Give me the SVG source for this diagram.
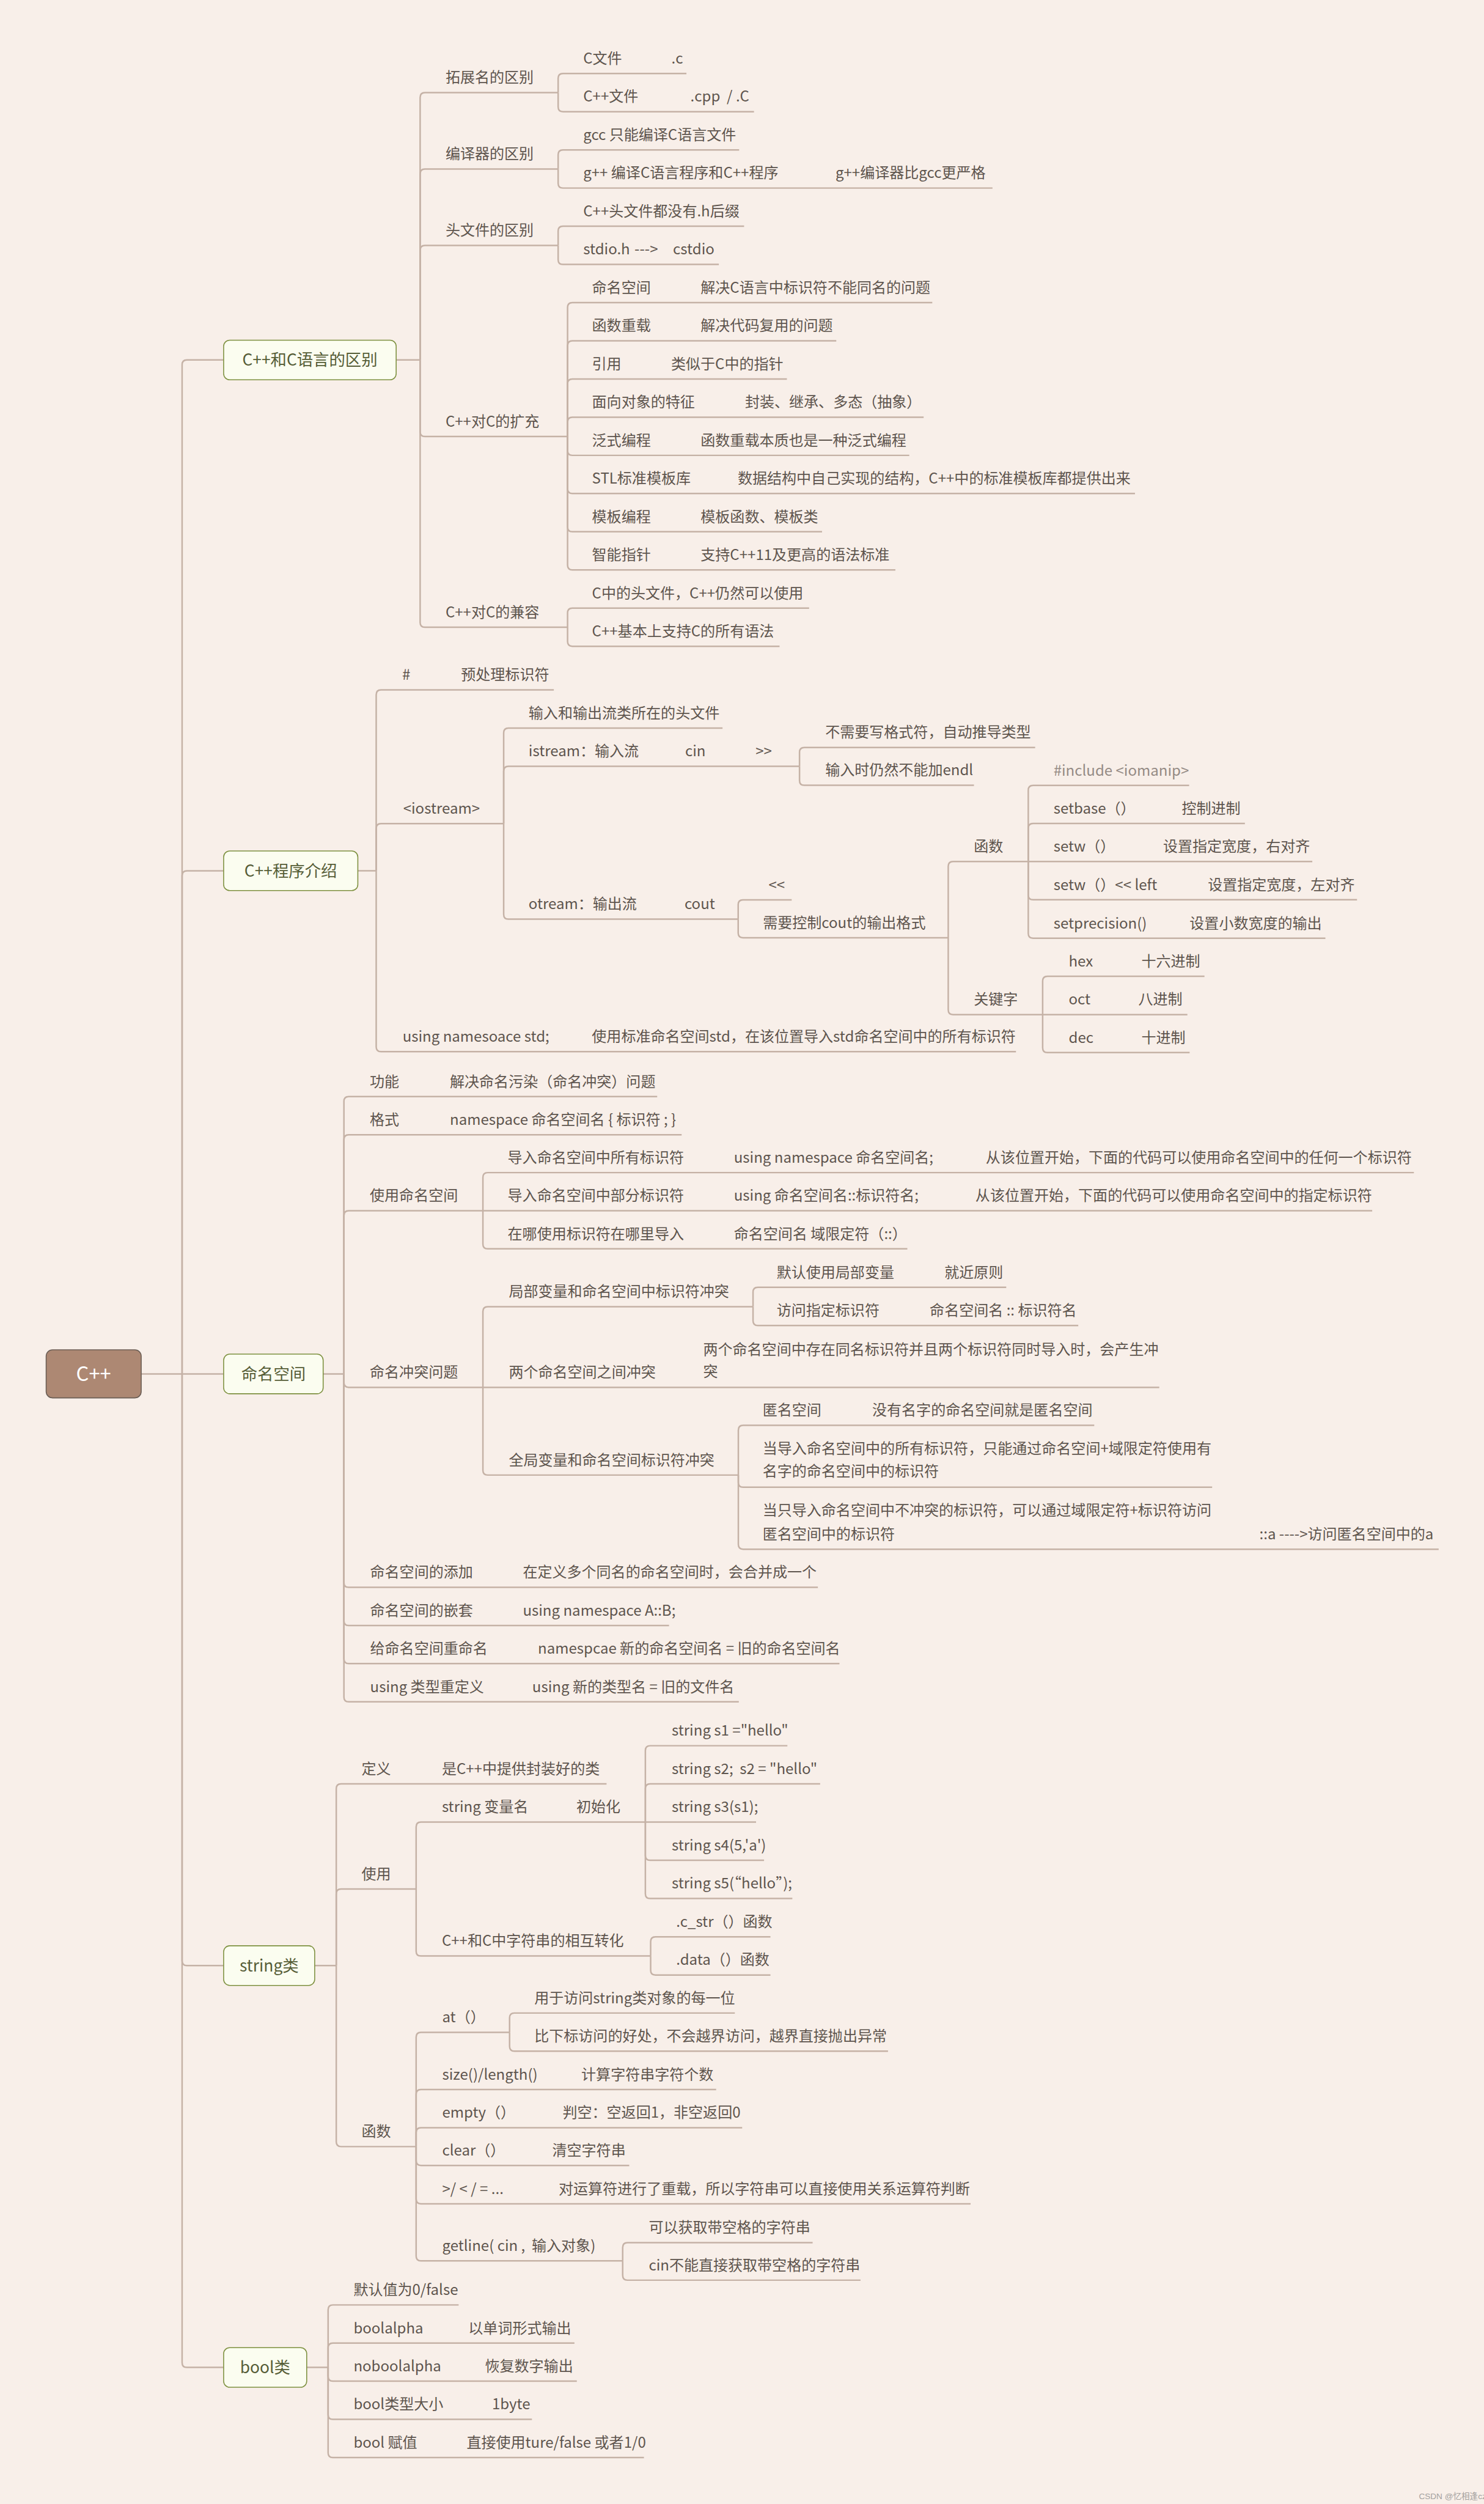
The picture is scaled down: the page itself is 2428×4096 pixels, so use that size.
<svg xmlns="http://www.w3.org/2000/svg" width="2428" height="4096" viewBox="0 0 2428 4096">
<style>
.t{font-family:"Noto Sans CJK SC","Noto Sans",sans-serif;font-size:9.2px;fill:#5e554e}
.lt{fill:#958b85}
.m{font-family:"Noto Sans CJK SC","Noto Sans",sans-serif;font-size:10.1px;fill:#565d37;text-anchor:middle}
.box{fill:#fbfdf0;stroke:#7e9140;stroke-width:0.6}
.root{fill:#ad8873;stroke:#6b5e55;stroke-width:0.6}
.rt{font-family:"Noto Sans CJK SC","Noto Sans",sans-serif;font-size:12.5px;fill:#ffffff;text-anchor:middle}
.ln{fill:none;stroke:#c5b2a6;stroke-width:0.95}
.wm{font-family:"Liberation Sans","Noto Sans CJK SC",sans-serif;font-size:5.2px;fill:#a3a09e}
</style>
<rect x="0" y="0" width="2428" height="4096" fill="#f8efe9"/>
<g transform="scale(2.6136)">
<g id="connectors" class="ln">
<path d="M88.4 859.9 H114"/>
<path d="M114 859.9 V228.3 Q114 225.3 117 225.3 H140"/>
<path d="M114 859.9 V548 Q114 545 117 545 H140"/>
<path d="M114 859.9 H140"/>
<path d="M114 859.9 V1227.2 Q114 1230.2 117 1230.2 H140"/>
<path d="M114 859.9 V1478.7 Q114 1481.7 117 1481.7 H140"/>
<path d="M248 225.3 H263"/>
<path d="M224 545 H235.5"/>
<path d="M202.3 859.9 H215.3"/>
<path d="M197 1230.2 H210.5"/>
<path d="M192 1481.7 H205.4"/>
<path d="M263 225.3 V61 Q263 58 266 58 H349.4"/>
<path d="M263 225.3 V108.8 Q263 105.8 266 105.8 H349.4"/>
<path d="M263 225.3 V156.6 Q263 153.6 266 153.6 H349.4"/>
<path d="M263 225.3 V270.2 Q263 273.2 266 273.2 H355.3"/>
<path d="M263 225.3 V389.6 Q263 392.6 266 392.6 H355.3"/>
<path d="M349.4 58 V49 Q349.4 46 352.4 46 H429.7"/>
<path d="M349.4 58 V66.9 Q349.4 69.9 352.4 69.9 H472"/>
<path d="M349.4 105.8 V96.8 Q349.4 93.8 352.4 93.8 H462.7"/>
<path d="M349.4 105.8 V114.7 Q349.4 117.7 352.4 117.7 H621.3"/>
<path d="M349.4 153.6 V144.6 Q349.4 141.6 352.4 141.6 H465.8"/>
<path d="M349.4 153.6 V162.5 Q349.4 165.5 352.4 165.5 H450"/>
<path d="M355.3 273.2 V192.4 Q355.3 189.4 358.3 189.4 H583.6"/>
<path d="M355.3 273.2 V216.3 Q355.3 213.3 358.3 213.3 H523.5"/>
<path d="M355.3 273.2 V240.2 Q355.3 237.2 358.3 237.2 H492.6"/>
<path d="M355.3 273.2 V264.1 Q355.3 261.1 358.3 261.1 H578.2"/>
<path d="M355.3 273.2 V282 Q355.3 285 358.3 285 H569.2"/>
<path d="M355.3 273.2 V305.9 Q355.3 308.9 358.3 308.9 H710.5"/>
<path d="M355.3 273.2 V329.8 Q355.3 332.8 358.3 332.8 H514.6"/>
<path d="M355.3 273.2 V353.7 Q355.3 356.7 358.3 356.7 H560.5"/>
<path d="M355.3 392.6 V383.6 Q355.3 380.6 358.3 380.6 H506.5"/>
<path d="M355.3 392.6 V401.5 Q355.3 404.5 358.3 404.5 H488"/>
<path d="M235.5 545 V434.8 Q235.5 431.8 238.5 431.8 H346.7"/>
<path d="M235.5 545 V518.5 Q235.5 515.5 238.5 515.5 H315.3"/>
<path d="M235.5 545 V655.2 Q235.5 658.2 238.5 658.2 H636"/>
<path d="M315.3 515.5 V458.7 Q315.3 455.7 318.3 455.7 H452.3"/>
<path d="M315.3 515.5 V482.6 Q315.3 479.6 318.3 479.6 H500.5"/>
<path d="M315.3 515.5 V572.3 Q315.3 575.3 318.3 575.3 H462.1"/>
<path d="M500.5 479.6 V470.8 Q500.5 467.8 503.5 467.8 H648"/>
<path d="M500.5 479.6 V488.5 Q500.5 491.5 503.5 491.5 H609.7"/>
<path d="M462.1 575.3 V566.2 Q462.1 563.2 465.1 563.2 H495.6"/>
<path d="M462.1 575.3 V583.9 Q462.1 586.9 465.1 586.9 H593.6"/>
<path d="M593.6 586.9 V542.2 Q593.6 539.2 596.6 539.2 H643.7"/>
<path d="M593.6 586.9 V632 Q593.6 635 596.6 635 H652.7"/>
<path d="M643.7 539.2 V494.6 Q643.7 491.6 646.7 491.6 H744.4"/>
<path d="M643.7 539.2 V518.4 Q643.7 515.4 646.7 515.4 H779.3"/>
<path d="M643.7 539.2 H821.5"/>
<path d="M643.7 539.2 V560.1 Q643.7 563.1 646.7 563.1 H849.5"/>
<path d="M643.7 539.2 V584.2 Q643.7 587.2 646.7 587.2 H829.7"/>
<path d="M652.7 635 V614 Q652.7 611 655.7 611 H754"/>
<path d="M652.7 635 H743.3"/>
<path d="M652.7 635 V655.8 Q652.7 658.8 655.7 658.8 H744.7"/>
<path d="M215.3 859.9 V689.3 Q215.3 686.3 218.3 686.3 H411.4"/>
<path d="M215.3 859.9 V713.2 Q215.3 710.2 218.3 710.2 H426.7"/>
<path d="M215.3 859.9 V760.8 Q215.3 757.8 218.3 757.8 H302.3"/>
<path d="M215.3 859.9 V865.3 Q215.3 868.3 218.3 868.3 H302.3"/>
<path d="M215.3 859.9 V990.5 Q215.3 993.5 218.3 993.5 H512"/>
<path d="M215.3 859.9 V1014.4 Q215.3 1017.4 218.3 1017.4 H418.8"/>
<path d="M215.3 859.9 V1038.2 Q215.3 1041.2 218.3 1041.2 H525.5"/>
<path d="M215.3 859.9 V1062.1 Q215.3 1065.1 218.3 1065.1 H462.5"/>
<path d="M302.3 757.8 V736.9 Q302.3 733.9 305.3 733.9 H885.1"/>
<path d="M302.3 757.8 H859"/>
<path d="M302.3 757.8 V778.6 Q302.3 781.6 305.3 781.6 H568"/>
<path d="M302.3 868.3 V820.8 Q302.3 817.8 305.3 817.8 H471.4"/>
<path d="M302.3 868.3 H725.7"/>
<path d="M302.3 868.3 V920.2 Q302.3 923.2 305.3 923.2 H462.2"/>
<path d="M471.4 817.8 V808.7 Q471.4 805.7 474.4 805.7 H629.9"/>
<path d="M471.4 817.8 V826.6 Q471.4 829.6 474.4 829.6 H675"/>
<path d="M462.2 923.2 V895.1 Q462.2 892.1 465.2 892.1 H685"/>
<path d="M462.2 923.2 V927.8 Q462.2 930.8 465.2 930.8 H758.8"/>
<path d="M462.2 923.2 V966.6 Q462.2 969.6 465.2 969.6 H900.6"/>
<path d="M210.5 1230.2 V1119.5 Q210.5 1116.5 213.5 1116.5 H379.7"/>
<path d="M210.5 1230.2 V1185.3 Q210.5 1182.3 213.5 1182.3 H260.5"/>
<path d="M210.5 1230.2 V1340.5 Q210.5 1343.5 213.5 1343.5 H260.5"/>
<path d="M260.5 1182.3 V1143.4 Q260.5 1140.4 263.5 1140.4 H404"/>
<path d="M260.5 1182.3 V1221.2 Q260.5 1224.2 263.5 1224.2 H407.3"/>
<path d="M404 1140.4 V1095.6 Q404 1092.6 407 1092.6 H492.9"/>
<path d="M404 1140.4 V1119.5 Q404 1116.5 407 1116.5 H513.4"/>
<path d="M404 1140.4 H473.3"/>
<path d="M404 1140.4 V1161.3 Q404 1164.3 407 1164.3 H478.3"/>
<path d="M404 1140.4 V1185.2 Q404 1188.2 407 1188.2 H496"/>
<path d="M407.3 1224.2 V1215.2 Q407.3 1212.2 410.3 1212.2 H482.3"/>
<path d="M407.3 1224.2 V1233.1 Q407.3 1236.1 410.3 1236.1 H482.3"/>
<path d="M260.5 1343.5 V1275 Q260.5 1272 263.5 1272 H319"/>
<path d="M260.5 1343.5 V1310.8 Q260.5 1307.8 263.5 1307.8 H448.3"/>
<path d="M260.5 1343.5 V1334.7 Q260.5 1331.7 263.5 1331.7 H464.6"/>
<path d="M260.5 1343.5 V1352.3 Q260.5 1355.3 263.5 1355.3 H393.9"/>
<path d="M260.5 1343.5 V1376.3 Q260.5 1379.3 263.5 1379.3 H607.6"/>
<path d="M260.5 1343.5 V1412 Q260.5 1415 263.5 1415 H389.8"/>
<path d="M319 1272 V1262.9 Q319 1259.9 322 1259.9 H460"/>
<path d="M319 1272 V1280.8 Q319 1283.8 322 1283.8 H555.9"/>
<path d="M389.8 1415 V1406.6 Q389.8 1403.6 392.8 1403.6 H508.7"/>
<path d="M389.8 1415 V1424.1 Q389.8 1427.1 392.8 1427.1 H538.7"/>
<path d="M205.4 1481.7 V1445.6 Q205.4 1442.6 208.4 1442.6 H287.1"/>
<path d="M205.4 1481.7 V1469.5 Q205.4 1466.5 208.4 1466.5 H359.6"/>
<path d="M205.4 1481.7 V1487.3 Q205.4 1490.3 208.4 1490.3 H361.1"/>
<path d="M205.4 1481.7 V1511.2 Q205.4 1514.2 208.4 1514.2 H333"/>
<path d="M205.4 1481.7 V1535.1 Q205.4 1538.1 208.4 1538.1 H403.1"/>
</g>

<g id="root"><rect class="root" x="28.9" y="844.8" width="59.5" height="30.1" rx="4"/><text class="rt" x="58.6" y="864.2">C++</text></g>
<g id="main-c-diff"><rect class="box" x="140" y="212.9" width="108" height="24.8" rx="3.8"/><text class="m" x="194" y="228.9">C++和C语言的区别</text></g>
<g id="main-intro"><rect class="box" x="140" y="532.6" width="84" height="24.8" rx="3.8"/><text class="m" x="182" y="548.6">C++程序介绍</text></g>
<g id="main-ns"><rect class="box" x="140" y="847.5" width="62.3" height="24.8" rx="3.8"/><text class="m" x="171.2" y="863.5">命名空间</text></g>
<g id="main-string"><rect class="box" x="140" y="1217.8" width="57" height="24.8" rx="3.8"/><text class="m" x="168.5" y="1233.8">string类</text></g>
<g id="main-bool"><rect class="box" x="140" y="1469.3" width="52" height="24.8" rx="3.8"/><text class="m" x="166" y="1485.3">bool类</text></g>

<g class="t">
<g id="s1-ext"><text x="278.9" y="51.8">拓展名的区别</text></g>
<g id="s1-comp"><text x="278.9" y="99.6">编译器的区别</text></g>
<g id="s1-head"><text x="278.9" y="147.4">头文件的区别</text></g>
<g id="s1-ext2"><text x="278.9" y="267">C++对C的扩充</text></g>
<g id="s1-compat"><text x="278.9" y="386.4">C++对C的兼容</text></g>
<g id="s1-cfile"><text y="39.8"><tspan x="365.1">C文件</tspan><tspan x="420.3">.c</tspan></text></g>
<g id="s1-cppfile"><text y="63.7"><tspan x="365.1">C++文件</tspan><tspan x="432.2">.cpp &#160;/ .C</tspan></text></g>
<g id="s1-gcc"><text x="365.1" y="87.6">gcc 只能编译C语言文件</text></g>
<g id="s1-gpp"><text y="111.5"><tspan x="365.1">g++ 编译C语言程序和C++程序</tspan><tspan x="523">g++编译器比gcc更严格</tspan></text></g>
<g id="s1-hdr1"><text x="365.1" y="135.4">C++头文件都没有.h后缀</text></g>
<g id="s1-hdr2"><text y="159.3"><tspan x="365.1">stdio.h</tspan><tspan x="397.2">---&gt;</tspan><tspan x="421.3">cstdio</tspan></text></g>
<g id="s1-e1"><text y="183.2"><tspan x="370.6">命名空间</tspan><tspan x="438.6">解决C语言中标识符不能同名的问题</tspan></text></g>
<g id="s1-e2"><text y="207.1"><tspan x="370.6">函数重载</tspan><tspan x="438.6">解决代码复用的问题</tspan></text></g>
<g id="s1-e3"><text y="231"><tspan x="370.6">引用</tspan><tspan x="420.1">类似于C中的指针</tspan></text></g>
<g id="s1-e4"><text y="254.9"><tspan x="370.6">面向对象的特征</tspan><tspan x="466.4">封装、继承、多态（抽象）</tspan></text></g>
<g id="s1-e5"><text y="278.8"><tspan x="370.6">泛式编程</tspan><tspan x="438.6">函数重载本质也是一种泛式编程</tspan></text></g>
<g id="s1-e6"><text y="302.7"><tspan x="370.6">STL标准模板库</tspan><tspan x="461.8">数据结构中自己实现的结构，C++中的标准模板库都提供出来</tspan></text></g>
<g id="s1-e7"><text y="326.6"><tspan x="370.6">模板编程</tspan><tspan x="438.6">模板函数、模板类</tspan></text></g>
<g id="s1-e8"><text y="350.5"><tspan x="370.6">智能指针</tspan><tspan x="438.6">支持C++11及更高的语法标准</tspan></text></g>
<g id="s1-c1"><text x="370.6" y="374.4">C中的头文件，C++仍然可以使用</text></g>
<g id="s1-c2"><text x="370.6" y="398.3">C++基本上支持C的所有语法</text></g>

<g id="s2-hash"><text y="425.6"><tspan x="251.8">#</tspan><tspan x="288.6">预处理标识符</tspan></text></g>
<g id="s2-iostream"><text x="252.4" y="509.3">&lt;iostream&gt;</text></g>
<g id="s2-using"><text y="652"><tspan x="252">using namesoace std;</tspan><tspan x="370.5">使用标准命名空间std，在该位置导入std命名空间中的所有标识符</tspan></text></g>
<g id="s2-io1"><text x="330.9" y="449.5">输入和输出流类所在的头文件</text></g>
<g id="s2-istream"><text y="473.4"><tspan x="330.9">istream：输入流</tspan><tspan x="428.9">cin</tspan><tspan x="473">&gt;&gt;</tspan></text></g>
<g id="s2-otream"><text y="569.1"><tspan x="330.9">otream：输出流</tspan><tspan x="428.5">cout</tspan></text></g>
<g id="s2-in1"><text x="516.6" y="461.6">不需要写格式符，自动推导类型</text></g>
<g id="s2-in2"><text x="516.6" y="485.3">输入时仍然不能加endl</text></g>
<g id="s2-out1"><text x="481.1" y="557">&lt;&lt;</text></g>
<g id="s2-out2"><text x="477.6" y="580.7">需要控制cout的输出格式</text></g>
<g id="s2-func"><text x="609.6" y="533">函数</text></g>
<g id="s2-kw"><text x="609.6" y="628.8">关键字</text></g>
<g id="s2-f0"><text class="lt" x="659.5" y="485.4">#include &lt;iomanip&gt;</text></g>
<g id="s2-f1"><text y="509.2"><tspan x="659.5">setbase（）</tspan><tspan x="739.8">控制进制</tspan></text></g>
<g id="s2-f2"><text y="533"><tspan x="659.5">setw（）</tspan><tspan x="728.1">设置指定宽度，右对齐</tspan></text></g>
<g id="s2-f3"><text y="556.9"><tspan x="659.5">setw（）&lt;&lt; left</tspan><tspan x="756.1">设置指定宽度，左对齐</tspan></text></g>
<g id="s2-f4"><text y="581"><tspan x="659.5">setprecision()</tspan><tspan x="744.7">设置小数宽度的输出</tspan></text></g>
<g id="s2-k1"><text y="604.8"><tspan x="669">hex</tspan><tspan x="714.5">十六进制</tspan></text></g>
<g id="s2-k2"><text y="628.8"><tspan x="669">oct</tspan><tspan x="712.6">八进制</tspan></text></g>
<g id="s2-k3"><text y="652.6"><tspan x="669">dec</tspan><tspan x="714.5">十进制</tspan></text></g>

<g id="s3-func"><text y="680.1"><tspan x="231.5">功能</tspan><tspan x="281.6">解决命名污染（命名冲突）问题</tspan></text></g>
<g id="s3-fmt"><text y="704"><tspan x="231.5">格式</tspan><tspan x="281.6">namespace 命名空间名 { 标识符 ; }</tspan></text></g>
<g id="s3-use"><text x="231.5" y="751.6">使用命名空间</text></g>
<g id="s3-conflict"><text x="231.5" y="862.1">命名冲突问题</text></g>
<g id="s3-add"><text y="987.3"><tspan x="231.7">命名空间的添加</tspan><tspan x="327.3">在定义多个同名的命名空间时，会合并成一个</tspan></text></g>
<g id="s3-nest"><text y="1011.2"><tspan x="231.7">命名空间的嵌套</tspan><tspan x="327.3">using namespace A::B;</tspan></text></g>
<g id="s3-rename"><text y="1035"><tspan x="231.7">给命名空间重命名</tspan><tspan x="336.7">namespcae 新的命名空间名 = 旧的命名空间名</tspan></text></g>
<g id="s3-typedef"><text y="1058.9"><tspan x="231.7">using 类型重定义</tspan><tspan x="333.2">using 新的类型名 = 旧的文件名</tspan></text></g>
<g id="s3-u1"><text y="727.7"><tspan x="317.8">导入命名空间中所有标识符</tspan><tspan x="459.4">using namespace 命名空间名;</tspan><tspan x="617.1">从该位置开始，下面的代码可以使用命名空间中的任何一个标识符</tspan></text></g>
<g id="s3-u2"><text y="751.6"><tspan x="317.8">导入命名空间中部分标识符</tspan><tspan x="459.4">using 命名空间名::标识符名;</tspan><tspan x="610.6">从该位置开始，下面的代码可以使用命名空间中的指定标识符</tspan></text></g>
<g id="s3-u3"><text y="775.4"><tspan x="317.8">在哪使用标识符在哪里导入</tspan><tspan x="459.4">命名空间名 域限定符（::）</tspan></text></g>
<g id="s3-c1"><text x="318.5" y="811.6">局部变量和命名空间中标识符冲突</text></g>
<g id="s3-c2"><text x="318.5" y="862.1">两个命名空间之间冲突</text><text x="440.2" y="847.7">两个命名空间中存在同名标识符并且两个标识符同时导入时，会产生冲</text><text x="440.2" y="861.6">突</text></g>
<g id="s3-c3"><text x="318.5" y="917">全局变量和命名空间标识符冲突</text></g>
<g id="s3-l1"><text y="799.5"><tspan x="486.2">默认使用局部变量</tspan><tspan x="591.2">就近原则</tspan></text></g>
<g id="s3-l2"><text y="823.4"><tspan x="486.2">访问指定标识符</tspan><tspan x="582">命名空间名 :: 标识符名</tspan></text></g>
<g id="s3-g1"><text y="885.9"><tspan x="477.4">匿名空间</tspan><tspan x="546">没有名字的命名空间就是匿名空间</tspan></text></g>
<g id="s3-g2"><text x="477.4" y="909.9">当导入命名空间中的所有标识符，只能通过命名空间+域限定符使用有</text><text x="477.4" y="924.2">名字的命名空间中的标识符</text></g>
<g id="s3-g3"><text x="477.4" y="948.6">当只导入命名空间中不冲突的标识符，可以通过域限定符+标识符访问</text><text x="477.4" y="963.6">匿名空间中的标识符</text><text x="788.4" y="963.6">::a ----&gt;访问匿名空间中的a</text></g>

<g id="s4-def"><text y="1110.3"><tspan x="226.3">定义</tspan><tspan x="276.6">是C++中提供封装好的类</tspan></text></g>
<g id="s4-use"><text x="226.3" y="1176.1">使用</text></g>
<g id="s4-func"><text x="226.3" y="1337.3">函数</text></g>
<g id="s4-var"><text y="1134.2"><tspan x="276.6">string 变量名</tspan><tspan x="360.8">初始化</tspan></text></g>
<g id="s4-conv"><text x="276.6" y="1218">C++和C中字符串的相互转化</text></g>
<g id="s4-s1"><text x="420.5" y="1086.4">string s1 ="hello"</text></g>
<g id="s4-s2"><text x="420.5" y="1110.3">string s2; &#160;s2 = "hello"</text></g>
<g id="s4-s3"><text x="420.5" y="1134.2">string s3(s1);</text></g>
<g id="s4-s4"><text x="420.5" y="1158.1">string s4(5,'a')</text></g>
<g id="s4-s5"><text x="420.5" y="1182">string s5(“hello”);</text></g>
<g id="s4-cstr"><text x="423.3" y="1206">.c_str（）函数</text></g>
<g id="s4-data"><text x="423.3" y="1229.9">.data（）函数</text></g>
<g id="s4-at"><text x="276.8" y="1265.8">at（）</text></g>
<g id="s4-at1"><text x="334.5" y="1253.7">用于访问string类对象的每一位</text></g>
<g id="s4-at2"><text x="334.5" y="1277.6">比下标访问的好处，不会越界访问，越界直接抛出异常</text></g>
<g id="s4-size"><text y="1301.6"><tspan x="276.8">size()/length()</tspan><tspan x="363.9">计算字符串字符个数</tspan></text></g>
<g id="s4-empty"><text y="1325.5"><tspan x="276.8">empty（）</tspan><tspan x="352.2">判空：空返回1，非空返回0</tspan></text></g>
<g id="s4-clear"><text y="1349.1"><tspan x="276.8">clear（）</tspan><tspan x="345.7">清空字符串</tspan></text></g>
<g id="s4-op"><text y="1373.1"><tspan x="276.8">&gt;/ &lt; / = ...</tspan><tspan x="349.7">对运算符进行了重载，所以字符串可以直接使用关系运算符判断</tspan></text></g>
<g id="s4-getline"><text x="276.8" y="1408.8">getline( cin , &#160;输入对象)</text></g>
<g id="s4-gl1"><text x="406.1" y="1397.4">可以获取带空格的字符串</text></g>
<g id="s4-gl2"><text x="406.1" y="1420.9">cin不能直接获取带空格的字符串</text></g>

<g id="s5-default"><text x="221.3" y="1436.4">默认值为0/false</text></g>
<g id="s5-alpha"><text y="1460.3"><tspan x="221.3">boolalpha</tspan><tspan x="293.2">以单词形式输出</tspan></text></g>
<g id="s5-noalpha"><text y="1484.1"><tspan x="221.3">noboolalpha</tspan><tspan x="303.6">恢复数字输出</tspan></text></g>
<g id="s5-size"><text y="1508"><tspan x="221.3">bool类型大小</tspan><tspan x="308">1byte</tspan></text></g>
<g id="s5-assign"><text y="1531.9"><tspan x="221.3">bool 赋值</tspan><tspan x="292.1">直接使用ture/false 或者1/0</tspan></text></g>
</g>
<text class="wm" x="888.2" y="1564">CSDN @忆相逢cz</text>
</g>
</svg>
